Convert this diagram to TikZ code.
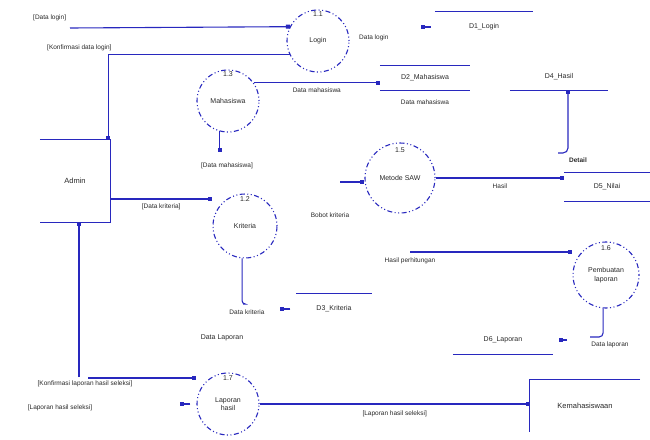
\documentclass[tikz,border=0pt]{standalone}
\usepackage{fontspec}
\setmainfont{Liberation Sans}
\usetikzlibrary{positioning, arrows.meta, calc}
\definecolor{flowblue}{RGB}{40,40,190}
\definecolor{txtgray}{RGB}{40,40,40}

\begin{document}
\begin{tikzpicture}[x=1pt, y=-1pt,
    proc/.style={circle, draw=flowblue, line width=1.1pt, dash pattern=on 1pt off 2.5pt on 1pt off 2.5pt on 5pt off 2.5pt, minimum size=62pt, inner sep=0pt, align=center, font=\fontsize{7}{8.5}\selectfont, text=txtgray},
    num/.style={font=\fontsize{7}{8}\selectfont, inner sep=1pt, text=txtgray},
    lbl/.style={font=\fontsize{6.5}{7.5}\selectfont, inner sep=1pt, align=center, text=txtgray},
    store/.style={font=\fontsize{7}{8}\selectfont, inner sep=0pt, text=txtgray},
    entity/.style={font=\fontsize{7.5}{8.5}\selectfont, inner sep=0pt, text=txtgray},
    flow/.style={draw=flowblue, line width=1.1pt, -{Square[length=4pt,width=4pt]}},
    wire/.style={draw=flowblue, line width=1.1pt}
]
\useasboundingbox (0,0) rectangle (650,439);

% === EXTERNAL ENTITIES ===
\node[entity, minimum width=70pt, minimum height=82pt] (admin) at (75,181) {Admin};
\draw[wire] (admin.north west) -- (admin.north east) -- (admin.south east) -- (admin.south west);
\node[entity, minimum width=110pt, minimum height=52pt] (kemhs) at (585,406) {Kemahasiswaan};
\draw[wire] (kemhs.north east) -- (kemhs.north west) -- (kemhs.south west);

% === PROCESSES ===
\node[proc] (login) at (318,41) {Login};
\node[num, below=1pt of login.north] {1.1};
\node[proc] (mhs) at (228,101) {Mahasiswa};
\node[num, below=1pt of mhs.north] {1.3};
\node[proc, minimum size=64pt] (krt) at (245,226) {Kriteria};
\node[num, below=2pt of krt.north] {1.2};
\node[proc, minimum size=70pt] (saw) at (400,178) {Metode SAW};
\node[num, below=4pt of saw.north] {1.5};
\node[proc, minimum size=66pt] (plap) at (606,275) {Pembuatan\\laporan};
\node[num, below=3pt of plap.north] {1.6};
\node[proc] (lhsl) at (228,404) {Laporan\\hasil};
\node[num, below=2pt of lhsl.north] {1.7};

% === DATA STORES ===
\node[store, minimum width=98pt, minimum height=30pt] (d1) at (484,27) {D1\_Login};
\draw[wire] (d1.north west) -- (d1.north east);
\node[store, minimum width=90pt, minimum height=24pt] (d2) at (425,78) {D2\_Mahasiswa};
\draw[wire] (d2.north west) -- (d2.north east);
\draw[wire] (d2.south west) -- (d2.south east);
\node[store, minimum width=75pt, minimum height=30pt] (d3) at (334,309) {D3\_Kriteria};
\draw[wire] (d3.north west) -- (d3.north east);
\node[store, minimum width=98pt, minimum height=26pt] (d4) at (559,77) {D4\_Hasil};
\draw[wire] (d4.south west) -- (d4.south east);
\node[store, minimum width=85pt, minimum height=28pt] (d5) at (607,187) {D5\_Nilai};
\draw[wire] (d5.north west) -- (d5.north east);
\draw[wire] (d5.south west) -- (d5.south east);
\node[store, minimum width=100pt, minimum height=28pt] (d6) at (503,340) {D6\_Laporan};
\draw[wire] (d6.south west) -- (d6.south east);

% === LOGIN ===
\coordinate (dlin) at (70,28);
\draw[flow] (dlin) -- (login.153);
\node[lbl, anchor=south west] at (32,22) {[Data login]};
\draw[flow] (login.206) -| ([xshift=-2pt]admin.north east);
\node[lbl, anchor=south west] at (46,52) {[Konfirmasi data login]};
\node[lbl, anchor=west] at (358,38) {Data login};
\draw[flow] ([xshift=-4pt]d1.west) -- ++(-10,0);

% === MAHASISWA ===
\draw[flow] (mhs.35) -- (mhs.35 -| d2.west) node[lbl, midway, below=3pt] {Data mahasiswa};
\node[lbl, below=8pt of d2] {Data mahasiswa};
\coordinate (mhsout) at (219,152);
\draw[flow] (mhs.255) -- (mhs.255 |- mhsout);
\node[lbl, below=10pt of mhsout, xshift=8pt] {[Data mahasiswa]};

% === KRITERIA ===
\coordinate (akrt) at (110,199);
\draw[flow] (akrt) -- (akrt -| krt.west) node[lbl, midway, below=3pt] {[Data kriteria]};
\coordinate (krtout) at (243,304);
\draw[wire, rounded corners=3pt] (krt.265) |- (krtout);
\node[lbl, below=5pt of krtout, xshift=4pt] {Data kriteria};
\draw[flow] ([xshift=-6pt]d3.west) -- ++(-10,0);
\node[lbl, font=\fontsize{7}{8}\selectfont] (dlap) at (222,338) {Data Laporan};

% === METODE SAW ===
\coordinate (bkrt) at (340,182);
\draw[flow] (bkrt) -- (bkrt -| saw.west);
\node[lbl] at (330,215) {Bobot kriteria};
\draw[flow] (saw.east) -- (saw.east -| d5.west) node[lbl, midway, below=4pt] {Hasil};
\coordinate (dtl) at (558,153);
\draw[flow, rounded corners=5pt] (dtl) -| ([xshift=9pt]d4.south);
\node[lbl, font=\bfseries\fontsize{6.5}{7.5}\selectfont] at (578,160) {Detail};

% === PEMBUATAN LAPORAN ===
\coordinate (hpin) at (410,252);
\draw[flow] (hpin) -- (hpin -| plap.west);
\node[lbl] at (410,261) {Hasil perhitungan};
\coordinate (plout) at (590,337);
\draw[wire, rounded corners=4pt] (plap.265) |- (plout);
\node[lbl] at (610,345) {Data laporan};
\draw[flow] ([xshift=14pt]d6.east) -- ++(-8,0);

% === LAPORAN HASIL ===
\coordinate (adm) at (79,377);
\draw[flow] (adm) -- (adm |- admin.south);
\coordinate (klin) at (88,378);
\draw[flow] (klin) -- (klin -| lhsl.west);
\node[lbl] at (85,384) {[Konfirmasi laporan hasil seleksi]};
\node[lbl] at (60,408) {[Laporan hasil seleksi]};
\draw[flow] ([xshift=-6pt]lhsl.west) -- ++(-10,0);
\draw[flow] (lhsl.east) -- (lhsl.east -| kemhs.west) node[lbl, midway, below=5pt] {[Laporan hasil seleksi]};

\end{tikzpicture}
\end{document}
